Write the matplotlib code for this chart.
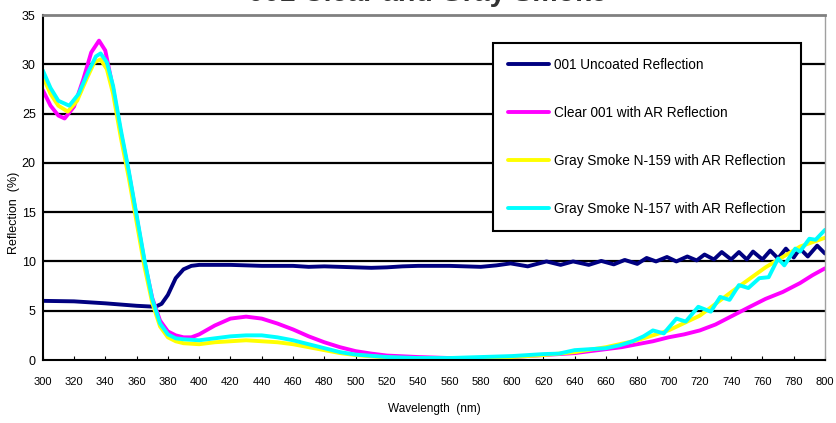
import numpy as np
import matplotlib.pyplot as plt

plt.rcParams['font.family'] = ['Liberation Sans', 'DejaVu Sans']

# 001 Uncoated Reflection
wl_navy = [300, 320, 340, 360, 372, 376, 380, 385, 390, 395, 400, 420, 440, 460, 470, 480,
           490, 500, 510, 520, 530, 540, 560, 570, 580, 590, 599, 610, 622, 631, 639, 649,
           657, 665, 672, 680, 686, 692, 699, 705, 712, 718, 723, 729, 734, 740, 745, 750,
           754, 760, 765, 770, 775, 780, 784, 789, 795, 800]
r_navy = [6.0, 5.95, 5.75, 5.5, 5.4, 5.7, 6.6, 8.3, 9.2, 9.55, 9.65, 9.65, 9.55, 9.55, 9.45, 9.5,
          9.45, 9.4, 9.35, 9.4, 9.5, 9.55, 9.55, 9.5, 9.45, 9.6, 9.8, 9.5, 10.0, 9.65, 10.0, 9.65,
          10.05, 9.7, 10.15, 9.75, 10.35, 10.0, 10.45, 10.0, 10.5, 10.1, 10.7, 10.2, 10.95, 10.2, 10.95, 10.2,
          11.0, 10.2, 11.1, 10.3, 11.3, 10.4, 11.3, 10.5, 11.6, 10.8]

# Clear 001 with AR Reflection
wl_mag = [300, 305, 310, 314, 320, 326, 331, 336, 340, 345, 350, 355, 360, 365, 370, 375,
          380, 385, 390, 395, 400, 410, 420, 430, 440, 450, 460, 470, 480, 490, 500, 510,
          520, 540, 560, 580, 600, 620, 640, 660, 670, 680, 690, 700, 710, 720, 730, 741,
          752, 762, 773, 784, 792, 800]
r_mag = [27.4, 25.8, 24.8, 24.5, 25.7, 28.5, 31.2, 32.4, 31.4, 27.5, 23.0, 19.0, 14.5, 10.0, 6.3, 4.0,
         2.9, 2.5, 2.3, 2.3, 2.6, 3.5, 4.2, 4.4, 4.2, 3.7, 3.1, 2.4, 1.8, 1.3, 0.9, 0.65,
         0.45, 0.3, 0.2, 0.2, 0.3, 0.5, 0.7, 1.1, 1.3, 1.6, 1.9, 2.3, 2.6, 3.0, 3.6, 4.5,
         5.4, 6.2, 6.9, 7.8, 8.6, 9.3]

# Gray Smoke N-159 with AR Reflection
wl_yel = [300, 305, 310, 316, 322, 328, 333, 337, 341, 345, 350, 355, 360, 365, 370, 375,
          380, 385, 390, 400, 410, 420, 430, 440, 450, 460, 470, 480, 490, 500, 520, 540,
          560, 580, 600, 620, 640, 660, 680, 700, 720, 741, 762, 784, 800]
r_yel = [28.8, 27.0, 25.8, 25.2, 26.3, 28.5, 30.2, 30.5, 29.5, 27.0, 22.5, 18.5, 14.0, 9.5, 5.8, 3.4,
         2.3, 1.9, 1.7, 1.6, 1.8, 1.9, 2.0, 1.9, 1.8, 1.6, 1.3, 1.0, 0.7, 0.5, 0.25, 0.15,
         0.1, 0.2, 0.3, 0.5, 0.8, 1.3, 2.0, 3.0, 4.5, 7.0, 9.4, 11.5, 12.4]

# Gray Smoke N-157 with AR Reflection
wl_cyan = [300, 305, 310, 317, 323, 329, 334, 337, 341, 345, 350, 355, 360, 365, 370, 375,
           380, 385, 390, 400, 410, 420, 430, 440, 450, 460, 470, 480, 490, 500, 520, 540,
           560, 580, 600, 610, 620, 630, 640, 650, 660, 669, 677, 684, 690, 697, 705, 711,
           719, 727, 733, 739, 745, 751, 758, 764, 770, 774, 781, 784, 790, 794, 800]
r_cyan = [29.4, 27.6, 26.3, 25.8, 27.0, 29.2, 30.8, 31.1, 30.2, 27.8, 23.3, 19.2, 14.7, 10.2, 6.2, 3.7,
          2.6, 2.2, 2.1, 2.0, 2.2, 2.4, 2.5, 2.5, 2.3, 2.0, 1.6, 1.2, 0.8, 0.55, 0.3, 0.2,
          0.2, 0.3, 0.4, 0.5, 0.6, 0.65, 1.0, 1.1, 1.2, 1.5, 1.9, 2.4, 3.0, 2.7, 4.2, 3.9,
          5.4, 4.9, 6.4, 6.1, 7.6, 7.3, 8.3, 8.4, 10.3, 9.6, 11.3, 11.0, 12.3, 12.2, 13.2]

labels = ['001 Uncoated Reflection', 'Clear 001 with AR Reflection',
          'Gray Smoke N-159 with AR Reflection', 'Gray Smoke N-157 with AR Reflection']
colors = ['#000080', '#FF00FF', '#FFFF00', '#00FFFF']

fig = plt.figure(figsize=(8.37, 4.23), dpi=100)
ax = fig.add_axes([42.7 / 837, 1 - 360 / 423, (825 - 42.7) / 837, (360 - 15) / 423])

series = [(wl_navy, r_navy), (wl_mag, r_mag), (wl_yel, r_yel), (wl_cyan, r_cyan)]
for (x, y), c, lab in zip(series, colors, labels):
    ax.plot(x, y, color=c, lw=2.8, label=lab, solid_joinstyle='round', solid_capstyle='round')

ax.set_xlim(300, 800)
ax.set_ylim(0, 35)
ax.set_xticks(np.arange(300, 801, 20))
ax.set_yticks(np.arange(0, 36, 5))
for v in range(5, 35, 5):
    ax.axhline(v, color='black', lw=1.6, zorder=0.5)

ax.tick_params(axis='x', direction='in', length=3, width=0.8, labelsize=8, pad=12)
ax.tick_params(axis='y', length=0, labelsize=9, pad=5)
ax.spines['left'].set_linewidth(1.5)
ax.spines['bottom'].set_linewidth(1.5)
ax.spines['top'].set_color('#808080')
ax.spines['top'].set_linewidth(2)
ax.spines['right'].set_color('#a0a0a0')
ax.spines['right'].set_linewidth(1)

fig.text(434 / 837, 1 - 409 / 423, 'Wavelength  (nm)', ha='center', va='center', fontsize=8.5)
fig.text(14 / 837, 1 - 213 / 423, 'Reflection  (%)', ha='center', va='center',
         rotation=90, fontsize=9)
# title sits mostly above the top edge, only its lower part shows
fig.text(427 / 837, 1 - 1 / 423, '001 Clear and Gray Smoke', ha='center', va='baseline',
         fontsize=20.5, fontweight='bold', color='#333333')

leg = ax.legend(loc='upper left', bbox_to_anchor=((493 - 42.7) / 782.3, (360 - 43) / 345),
                fontsize=9.8, frameon=True, fancybox=False, edgecolor='black',
                framealpha=1, labelspacing=2.5, handlelength=3.0, handletextpad=0.4,
                borderpad=1.1, borderaxespad=0)
leg.get_frame().set_linewidth(1.5)

fig.savefig('out.png', dpi=100)
